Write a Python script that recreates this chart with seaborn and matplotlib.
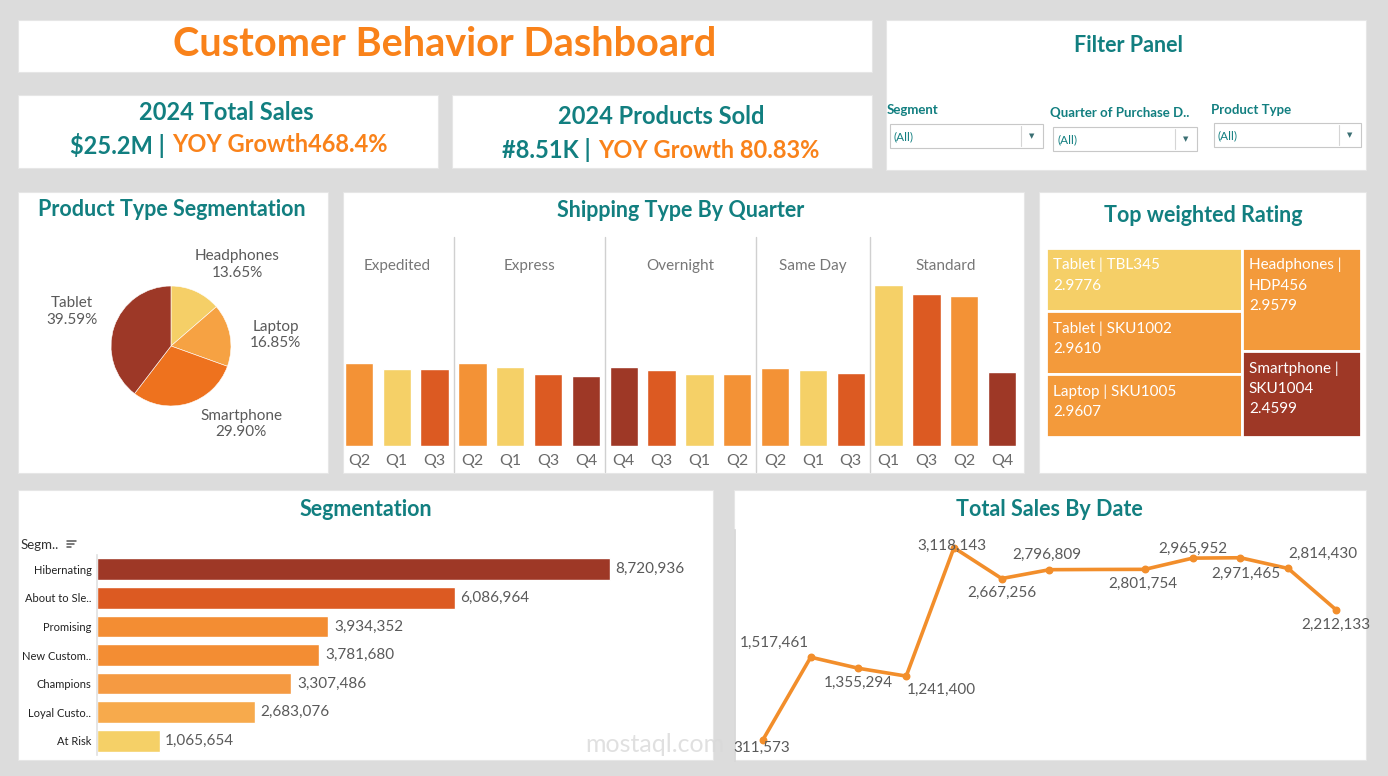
import seaborn as sns
import matplotlib.pyplot as plt
import pandas as pd
import numpy as np
from matplotlib.patches import Rectangle
from matplotlib.lines import Line2D

# ---- data ----
pie_types = ['Headphones', 'Laptop', 'Smartphone', 'Tablet']
pie_share = [13.65, 16.85, 29.90, 39.59]

ship_types = ['Expedited', 'Express', 'Overnight', 'Same Day', 'Standard']
ship_quarters = [['Q2', 'Q1', 'Q3'],
                 ['Q2', 'Q1', 'Q3', 'Q4'],
                 ['Q4', 'Q3', 'Q1', 'Q2'],
                 ['Q2', 'Q1', 'Q3'],
                 ['Q1', 'Q3', 'Q2', 'Q4']]
ship_values = [[1303, 1209, 1209],
               [1303, 1240, 1130, 1099],
               [1240, 1193, 1130, 1130],
               [1225, 1193, 1146],
               [2528, 2386, 2355, 1162]]

tree_labels = ['Tablet | TBL345', 'Tablet | SKU1002', 'Laptop | SKU1005',
               'Headphones |\nHDP456', 'Smartphone |\nSKU1004']
tree_ratings = [2.9776, 2.9610, 2.9607, 2.9579, 2.4599]

seg_names = ['Hibernating', 'About to Sle..', 'Promising', 'New Custom..',
             'Champions', 'Loyal Custo..', 'At Risk']
seg_sales = [8720936, 6086964, 3934352, 3781680, 3307486, 2683076, 1065654]

month_idx = list(range(13))
month_sales = [311573, 1517461, 1355294, 1241400, 3118143, 2667256, 2796809,
               2800000, 2801754, 2965952, 2971465, 2814430, 2212133]
month_shown = [True] * 7 + [False] + [True] * 5

# ---- style ----
TEAL = '#127F80'
ORANGE = '#F9821A'
GRAY = '#5A5A5A'
quarter_pal = {'Q1': '#F5D067', 'Q2': '#F39236', 'Q3': '#DC5A22', 'Q4': '#9E3826'}

sns.set_theme(style='white')
plt.rcParams['font.family'] = ['Lato', 'DejaVu Sans']

W, H = 1388, 776
fig = plt.figure(figsize=(W / 100, H / 100), dpi=100, facecolor='#DCDCDC')


def box(x0, y0, x1, y1):
    return [x0 / W, 1 - y1 / H, (x1 - x0) / W, (y1 - y0) / H]


def ftxt(x, y, s, **kw):
    kw.setdefault('ha', 'center')
    kw.setdefault('va', 'center')
    return fig.text(x / W, 1 - y / H, s, **kw)


def panel(x0, y0, x1, y1):
    fig.add_artist(Rectangle((x0 / W, 1 - y1 / H), (x1 - x0) / W, (y1 - y0) / H,
                             transform=fig.transFigure, facecolor='white',
                             edgecolor='#E6E6E6', lw=0.8, zorder=0))


def title(x, y, s, size=15.5):
    ftxt(x, y, s, color=TEAL, fontsize=size, fontweight='bold')


# panels
panel(18, 20, 872, 72)
panel(886, 20, 1366, 170)
panel(18, 95, 438, 168)
panel(452, 95, 872, 168)
panel(18, 192, 328, 473)
panel(343, 192, 1024, 473)
panel(1039, 192, 1366, 473)
panel(18, 490, 713, 760)
panel(734, 490, 1366, 760)

# header + KPIs
ftxt(445, 45, 'Customer Behavior Dashboard', color=ORANGE, fontsize=28.5, fontweight='bold')
title(226, 113, '2024 Total Sales', size=17)
ftxt(165, 145, '$25.2M |', color=TEAL, fontsize=17, fontweight='bold', ha='right')
ftxt(172, 145, 'YOY Growth468.4%', color=ORANGE, fontsize=17, fontweight='bold', ha='left')
title(661, 117, '2024 Products Sold', size=17)
ftxt(591, 150, '#8.51K |', color=TEAL, fontsize=17, fontweight='bold', ha='right')
ftxt(598, 150, 'YOY Growth 80.83%', color=ORANGE, fontsize=17, fontweight='bold', ha='left')

# filter panel
title(1129, 45, 'Filter Panel')
filters = [('Segment', 887, 110, 890, 124, 1043), ('Quarter of Purchase D..', 1050, 113, 1053, 127, 1197),
           ('Product Type', 1211, 110, 1214, 123, 1361)]
for name, lx, ly, bx0, by0, bx1 in filters:
    ftxt(lx, ly, name, color=TEAL, fontsize=9.5, fontweight='bold', ha='left')
    fig.add_artist(Rectangle((bx0 / W, 1 - (by0 + 24) / H), (bx1 - bx0) / W, 24 / H,
                             transform=fig.transFigure, facecolor='white', edgecolor='#C8C8C8', lw=0.8))
    fig.add_artist(Line2D([(bx1 - 22) / W] * 2, [1 - (by0 + 2) / H, 1 - (by0 + 22) / H],
                          transform=fig.transFigure, color='#D5D5D5', lw=0.8))
    ftxt(bx0 + 4, by0 + 13, '(All)', color=TEAL, fontsize=8.5, ha='left')
    ftxt(bx1 - 11, by0 + 12, '\u25BC', color='#3A6F73', fontsize=5, family='DejaVu Sans')

# ---- pie ----
ftxt(38, 209, 'Product Type Segmentation', color=TEAL, fontsize=15.5, fontweight='bold', ha='left')
axp = fig.add_axes(box(101, 276, 241, 416))
wedges, texts = axp.pie(pie_share, colors=['#F5CF67', '#F6A243', '#EE721E', '#9D3827'],
                        startangle=90, counterclock=False,
                        labels=[f'{n}\n{v:.2f}%' for n, v in zip(pie_types, pie_share)],
                        labeldistance=1.75,
                        textprops=dict(color=GRAY, fontsize=11, ha='center', va='center', linespacing=1.25),
                        wedgeprops=dict(edgecolor='white', linewidth=0.4))
for t, ang in zip(texts, [51, 6, -48, 161]):
    a = np.deg2rad(ang)
    t.set_position((1.75 * np.cos(a), 1.75 * np.sin(a)))
axp.set_xlim(-1.167, 1.167)
axp.set_ylim(-1.167, 1.167)
axp.set_aspect('equal')
axp.axis('off')

# ---- shipping bars ----
title(681, 211, 'Shipping Type By Quarter', size=15.5)
rows = []
for s, qs, vs in zip(ship_types, ship_quarters, ship_values):
    for q, v in zip(qs, vs):
        rows.append({'slot': f'{s}|{q}', 'ship': s, 'quarter': q, 'value': v})
ship_df = pd.DataFrame(rows)
axs = fig.add_axes(box(340, 237, 1021, 446))
axs.set_facecolor('none')
sns.barplot(data=ship_df, x='slot', y='value', hue='quarter', palette=quarter_pal,
            order=list(ship_df['slot']), dodge=False, width=0.75, saturation=1,
            legend=False, ax=axs)
axs.set_ylim(0, 3281)
axs.set_xlim(-0.5, len(ship_df) - 0.5)
axs.set_xticks(range(len(ship_df)))
axs.set_xticklabels(ship_df['quarter'], color='#6A6A6A', fontsize=11.5)
axs.tick_params(axis='x', length=0, pad=6)
axs.set_yticks([])
axs.set_xlabel('')
axs.set_ylabel('')
sns.despine(ax=axs, left=True, bottom=True)
start = 0
for s, qs in zip(ship_types, ship_quarters):
    end = start + len(qs)
    axs.text((start + end - 1) / 2, 0.861, s, transform=axs.get_xaxis_transform(),
             ha='center', va='center', color='#777777', fontsize=11)
    if end < len(ship_df):
        axs.plot([end - 0.5] * 2, [-0.124, 1.0], transform=axs.get_xaxis_transform(),
                 color='#D0D0D0', lw=1, clip_on=False)
    start = end

# ---- treemap ----
title(1203, 216, 'Top weighted Rating', size=15.5)
axt = fig.add_axes(box(1046, 248, 1361, 437))
axt.set_xlim(0, 1)
axt.set_ylim(1, 0)
axt.axis('off')
tree_cols = [[0, 1, 2], [3, 4]]
tree_colors = ['#F5CF67', '#F39A3B', '#F39A3B', '#F39A3B', '#9E3826']
total = sum(tree_ratings)
x = 0
for col in tree_cols:
    csum = sum(tree_ratings[i] for i in col)
    w = csum / total
    y = 0
    for i in col:
        h = tree_ratings[i] / csum
        axt.add_patch(Rectangle((x, y), w, h, facecolor=tree_colors[i], edgecolor='white', lw=2))
        axt.text(x + 7 / 315, y + 10 / 189, f'{tree_labels[i]}\n{tree_ratings[i]:.4f}',
                 color='white', fontsize=11, ha='left', va='top', linespacing=1.55)
        y += h
    x += w

# ---- segmentation ----
title(366, 509, 'Segmentation', size=15.5)
ftxt(21, 545, 'Segm..', color='#333333', fontsize=9.5, ha='left')
for i, ln in enumerate([9, 7, 4]):
    fig.add_artist(Line2D([67 / W, (67 + ln) / W], [1 - (541 + 3 * i) / H] * 2,
                          transform=fig.transFigure, color='#555555', lw=1.1))
axg = fig.add_axes(box(97, 555, 705, 755))
axg.set_facecolor('none')
seg_colors = ['#9E3826', '#DC5A22', '#F38D33', '#F38D33', '#F59A42', '#F7AA4C', '#F5D067']
sns.barplot(x=seg_sales, y=seg_names, hue=seg_names, palette=seg_colors, legend=False,
            width=0.76, orient='h', saturation=1, ax=axg)
axg.set_xlim(0, 10.34e6)
axg.set_xticks([])
axg.tick_params(axis='y', length=0, labelsize=8, labelcolor='#222222', pad=4)
sns.despine(ax=axg, bottom=True, right=True, top=True)
axg.spines['left'].set_color('#E2E2E2')
for i, v in enumerate(seg_sales):
    axg.annotate(f'{v:,}', (v, i), xytext=(4, 0), textcoords='offset points',
                 ha='left', va='center', color=GRAY, fontsize=11)

# ---- line ----
title(1049, 509, 'Total Sales By Date', size=15.5)
line_df = pd.DataFrame({'month': month_idx, 'sales': month_sales, 'shown': month_shown})
axl = fig.add_axes(box(735, 530, 1366, 761))
axl.set_facecolor('none')
sns.lineplot(data=line_df, x='month', y='sales', color='#F28E2B', lw=2.6, ax=axl)
pts = line_df[line_df['shown']]
axl.scatter(pts['month'], pts['sales'], color='#F28E2B', s=22, zorder=3)
axl.set_xlim(-0.586, 12.63)
axl.set_ylim(0, 3.377e6)
axl.set_xticks([])
axl.set_yticks([])
axl.set_xlabel('')
axl.set_ylabel('')
sns.despine(ax=axl, bottom=True, right=True, top=True)
axl.spines['left'].set_color('#D8D8D8')
offsets = [(-1, -8), (-36, 14), (0, -15), (35, -14), (-2, 2), (0, -14), (-3, 15), None,
           (-2, -15), (0, 9), (5, -16), (35, 15), (0, -15)]
for m, v, off in zip(month_idx, month_sales, offsets):
    if off is None:
        continue
    axl.annotate(f'{v:,}', (m, v), xytext=(off[0] * 0.72, off[1] * 0.72), textcoords='offset points',
                 ha='center', va='center', color=GRAY, fontsize=11, annotation_clip=False)

# watermark
ftxt(655, 744, 'mostaql.com', color='#D9D9D9', fontsize=18, alpha=0.8, zorder=5)

fig.savefig('out.png', dpi=100, facecolor=fig.get_facecolor())
plt.close()
